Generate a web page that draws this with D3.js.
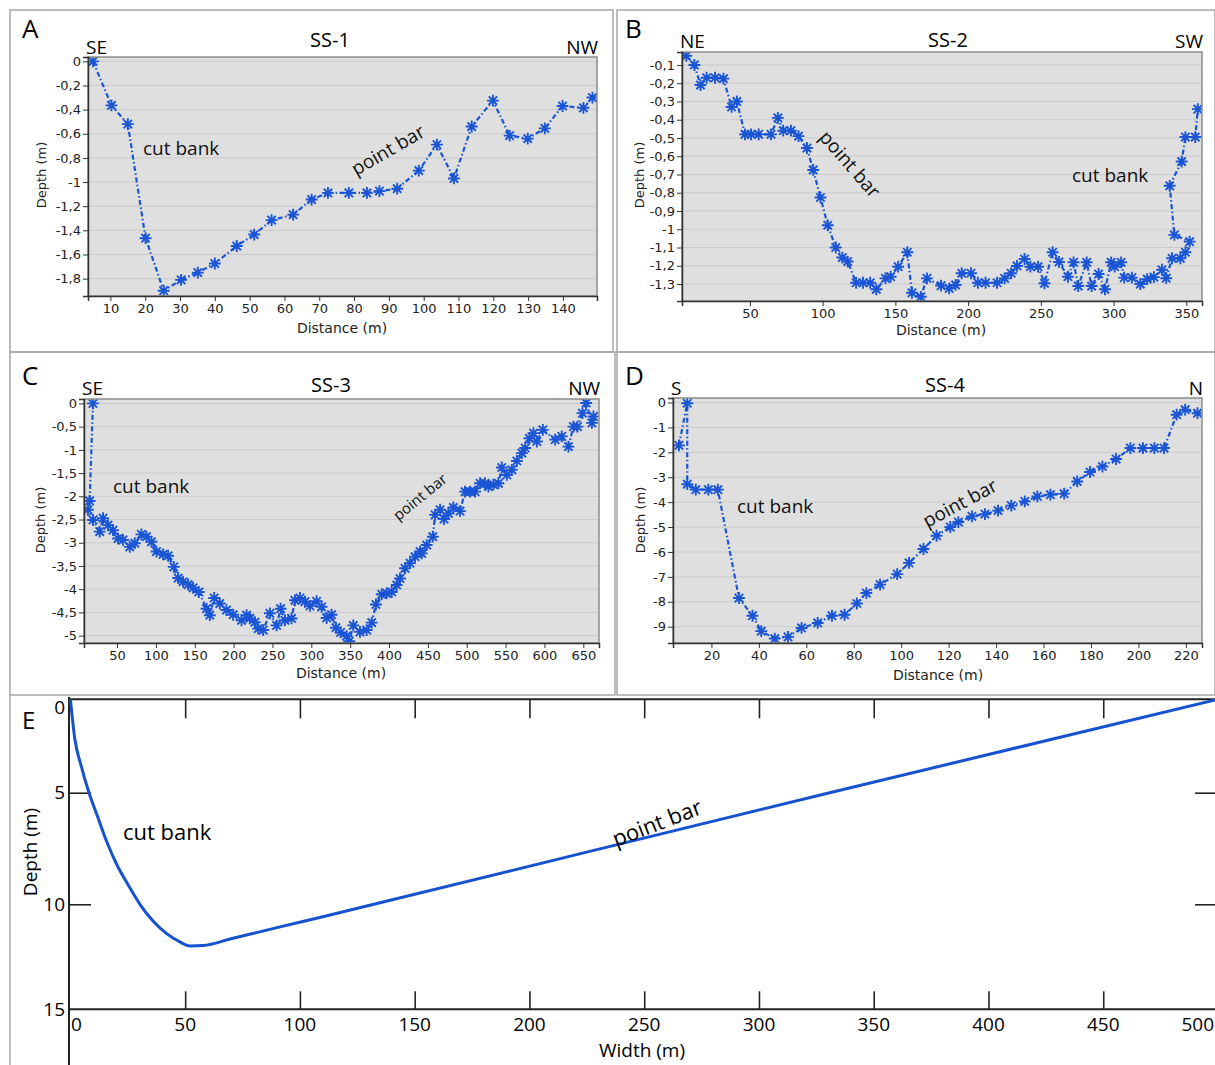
<!DOCTYPE html>
<html>
<head>
<meta charset="utf-8">
<script src="https://cdn.jsdelivr.net/npm/d3@7"></script>
<style>
  body { margin: 0; background: #fff; }
  svg { display: block; }
</style>
</head>
<body>
<svg id="fig" width="1215" height="1065"></svg>
<script>
// measured profiles: [distance (m), depth (m)]
const ss1 = [[5.0,0],[10.3,-0.365],[15,-0.52],[20.1,-1.465],[25.3,-1.9],[30.3,-1.81],[35.1,-1.75],[40,-1.675],
  [46.3,-1.53],[51.3,-1.435],[56.3,-1.315],[62.5,-1.27],[67.8,-1.145],[72.5,-1.09],[78.5,-1.09],[83.7,-1.09],
  [87.3,-1.075],[92.4,-1.055],[98.6,-0.905],[103.8,-0.69],[108.7,-0.97],[113.8,-0.54],[119.9,-0.325],
  [124.7,-0.615],[129.9,-0.64],[134.8,-0.555],[139.9,-0.37],[145.9,-0.385],[148.5,-0.30]];

const ss2 = [[6.3,-0.05],[11.8,-0.10],[16.0,-0.21],[20.2,-0.17],[26,-0.17],[31.8,-0.175],[37.4,-0.33],[41,-0.30],
  [46.6,-0.48],[50.8,-0.48],[56,-0.48],[64.5,-0.48],[69.2,-0.39],[72.9,-0.46],[78.2,-0.46],[83.4,-0.49],
  [89.2,-0.555],[93.5,-0.675],[98.5,-0.826],[103.5,-0.978],[109,-1.10],[113.5,-1.155],[117.2,-1.177],
  [123,-1.293],[127.7,-1.293],[132.7,-1.293],[136.9,-1.329],[143.2,-1.269],[146.7,-1.26],[151.9,-1.205],
  [158.2,-1.126],[161.4,-1.348],[167.5,-1.37],[171.7,-1.269],[181.4,-1.309],[187,-1.324],[191.4,-1.305],
  [195.6,-1.241],[202,-1.241],[206.7,-1.293],[212,-1.293],[219.9,-1.293],[225.1,-1.269],[229.6,-1.241],
  [233.6,-1.201],[238.8,-1.163],[242.8,-1.205],[248.1,-1.205],[252.5,-1.296],[258.1,-1.126],[262.5,-1.179],
  [268.6,-1.26],[272.5,-1.181],[275.7,-1.311],[281.5,-1.181],[284.9,-1.311],[289.7,-1.245],[294.1,-1.329],
  [298.4,-1.181],[300.7,-1.205],[305.2,-1.181],[307.3,-1.265],[312.6,-1.265],[318.4,-1.30],[323.1,-1.273],
  [327.7,-1.262],[333.3,-1.222],[336.2,-1.268],[340.2,-1.159],[345.9,-1.159],[349.4,-1.126],[352.3,-1.068],
  [341.8,-1.031],[338.6,-0.762],[346.8,-0.629],[349.4,-0.495],[356.2,-0.495],[357.9,-0.342]];

const ss3 = [[19,0],[14.8,-2.10],[12.6,-2.29],[19.1,-2.51],[27.7,-2.76],[32,-2.47],[38.4,-2.62],[44.8,-2.73],
  [51.3,-2.91],[57.7,-2.94],[66.4,-3.09],[72.8,-3.01],[81.4,-2.82],[87.9,-2.87],[94.3,-2.98],[100.8,-3.19],
  [109.3,-3.25],[115.7,-3.28],[123,-3.52],[128.6,-3.76],[135,-3.84],[141.5,-3.90],[147.9,-3.97],[155.2,-4.06],
  [165.2,-4.42],[169.4,-4.56],[175,-4.19],[182.3,-4.31],[190.9,-4.45],[199.4,-4.55],[210.2,-4.67],[216.7,-4.56],
  [220.9,-4.63],[227.4,-4.71],[231.6,-4.85],[238.1,-4.88],[246.7,-4.52],[255.3,-4.78],[260.5,-4.42],[266,-4.67],
  [274.6,-4.63],[278.9,-4.24],[285.3,-4.19],[291.8,-4.27],[298.2,-4.36],[306.8,-4.26],[313.2,-4.38],
  [319.7,-4.62],[326.1,-4.55],[331.7,-4.83],[337.7,-4.93],[345.4,-5.01],[348.8,-5.12],[354,-4.78],
  [362.6,-4.92],[371.2,-4.88],[377.7,-4.72],[383.2,-4.33],[390.6,-4.11],[397,-4.09],[403.4,-4.06],
  [409.9,-3.91],[414.1,-3.77],[420.6,-3.55],[427,-3.44],[433.5,-3.30],[439.9,-3.19],[442.1,-3.23],
  [448.5,-3.05],[456.3,-2.87],[459.3,-2.40],[465.7,-2.29],[470.8,-2.49],[476.4,-2.37],[482.8,-2.24],
  [491.4,-2.32],[497.8,-1.90],[504.3,-1.90],[510.7,-1.90],[517.2,-1.72],[523.6,-1.72],[527.9,-1.79],
  [534.3,-1.75],[540.8,-1.72],[545.1,-1.38],[551.6,-1.54],[558,-1.43],[564.5,-1.24],[570.9,-1.07],
  [575.2,-0.96],[580.7,-0.75],[585.9,-0.64],[590.2,-0.82],[597.9,-0.57],[613.8,-0.78],[622.3,-0.71],
  [630.9,-0.93],[637.3,-0.50],[642.5,-0.50],[648.9,-0.21],[653.7,0.01],[661.1,-0.42],[663.1,-0.28]];

const ss4 = [[6.3,-1.72],[9.8,-0.03],[9.8,-3.28],[13.4,-3.50],[18.7,-3.50],[22.7,-3.50],[31.6,-7.85],[37.3,-8.56],
  [41,-9.18],[46.7,-9.48],[52.3,-9.41],[58,-9.05],[64.8,-8.85],[70.8,-8.56],[76.1,-8.52],[81.3,-8.07],
  [85.3,-7.65],[91.1,-7.31],[98.3,-6.89],[103.3,-6.44],[109.4,-5.88],[114.9,-5.35],[120.7,-5.0],[124.1,-4.80],
  [129.8,-4.57],[135.3,-4.48],[140.8,-4.34],[146.4,-4.14],[152.1,-3.97],[157.4,-3.77],[162.9,-3.70],
  [168.7,-3.66],[174.2,-3.17],[179.6,-2.79],[184.8,-2.57],[190.6,-2.27],[196.6,-1.83],[201.9,-1.83],
  [206.7,-1.83],[210.8,-1.83],[216.1,-0.49],[219.7,-0.29],[224.9,-0.43]];

// idealised channel profile (E)
const eWidth = [0, 2.0, 4.6, 8.1, 11.6, 15.9, 20.3, 24.7, 30.3, 36.0, 42.1, 47.7, 52.1, 57.8, 70, 90, 110, 132.2, 330.8, 500];
const eDepth = [0, 2.18, 3.52, 5.0, 6.0, 7.21, 8.24, 9.05, 10.0, 10.8, 11.41, 11.79, 11.98, 11.96, 11.64, 11.11, 10.59, 10, 5, 0];

// tick values
const ss1XTicks = [10,20,30,40,50,60,70,80,90,100,110,120,130,140];
const ss1YTicks = [0,-0.2,-0.4,-0.6,-0.8,-1,-1.2,-1.4,-1.6,-1.8];
const ss2XTicks = [50,100,150,200,250,300,350];
const ss2YTicks = [-0.1,-0.2,-0.3,-0.4,-0.5,-0.6,-0.7,-0.8,-0.9,-1,-1.1,-1.2,-1.3];
const ss3XTicks = [50,100,150,200,250,300,350,400,450,500,550,600,650];
const ss3YTicks = [0,-0.5,-1,-1.5,-2,-2.5,-3,-3.5,-4,-4.5,-5];
const ss4XTicks = [20,40,60,80,100,120,140,160,180,200,220];
const ss4YTicks = [0,-1,-2,-3,-4,-5,-6,-7,-8,-9];
const eXTicks = [0,50,100,150,200,250,300,350,400,450,500];
const eYTicks = [0,5,10,15];

const BLUE = "#1a55d6";
const svg = d3.select("#fig");
const fmt = d3.formatLocale({decimal: ",", thousands: " ", grouping: [3], currency: ["", ""], minus: "-"}).format("~g");

// 8-spoke asterisk marker
const asterisk = {
  draw(ctx, size) {
    const r = Math.sqrt(size) / 2;
    for (let k = 0; k < 4; k++) {
      const a = k * Math.PI / 4;
      ctx.moveTo(-r * Math.cos(a), -r * Math.sin(a));
      ctx.lineTo(r * Math.cos(a), r * Math.sin(a));
    }
  }
};

const panels = [
  {id: "a", letter: "A", title: "SS-1", dirL: "SE", dirR: "NW", box: [10, 10, 603, 342],
   plot: [88, 57, 597, 296], xDom: [3.56, 149.8], yDom: [-1.944, 0.036],
   xTicks: ss1XTicks, yTicks: ss1YTicks, data: ss1,
   letterPos: [22, 38], titlePos: [330, 47], dirY: 54, dxTitle: [342, 333], dyTitle: [46, 175],
   notes: [{t: "cut bank", x: 143, y: 155, s: 19, a: 0}, {t: "point bar", x: 388, y: 150, s: 19, a: -30, mid: true}]},
  {id: "b", letter: "B", title: "SS-2", dirL: "NE", dirR: "SW", box: [617, 10, 598, 342],
   plot: [682, 52, 1202, 301], xDom: [3.3, 360.8], yDom: [-1.393, -0.029],
   xTicks: ss2XTicks, yTicks: ss2YTicks, data: ss2,
   letterPos: [625, 38], titlePos: [948, 47], dirY: 48, dxTitle: [941, 335], dyTitle: [644, 175],
   notes: [{t: "point bar", x: 850, y: 164, s: 19, a: 49, mid: true}, {t: "cut bank", x: 1072, y: 182, s: 19, a: 0}]},
  {id: "c", letter: "C", title: "SS-3", dirL: "SE", dirR: "NW", box: [10, 352, 605, 343],
   plot: [84, 399, 599, 643], xDom: [7.5, 670.2], yDom: [-5.159, 0.095],
   xTicks: ss3XTicks, yTicks: ss3YTicks, data: ss3,
   letterPos: [22, 385], titlePos: [331, 392], dirY: 395, dxTitle: [341, 678], dyTitle: [45, 520],
   notes: [{t: "cut bank", x: 113, y: 493, s: 19, a: 0}, {t: "point bar", x: 420, y: 497, s: 15, a: -39, mid: true}]},
  {id: "d", letter: "D", title: "SS-4", dirL: "S", dirR: "N", box: [617, 352, 598, 343],
   plot: [673, 398, 1202, 643], xDom: [3.8, 226.8], yDom: [-9.655, 0.18],
   xTicks: ss4XTicks, yTicks: ss4YTicks, data: ss4,
   letterPos: [625, 385], titlePos: [945, 392], dirY: 395, dxTitle: [938, 680], dyTitle: [645, 520],
   notes: [{t: "cut bank", x: 737, y: 513, s: 19, a: 0}, {t: "point bar", x: 960, y: 503, s: 19, a: -28, mid: true}]}
];

panels.forEach(p => {
  const [x0, y0, x1, y1] = p.plot;
  const g = svg.append("g");

  g.append("rect").attr("x", p.box[0]).attr("y", p.box[1]).attr("width", p.box[2]).attr("height", p.box[3])
    .attr("fill", "none").attr("stroke", "#a8a8a8").attr("stroke-width", 1.5);

  const x = d3.scaleLinear().domain(p.xDom).range([x0, x1]);
  const y = d3.scaleLinear().domain(p.yDom).range([y1, y0]);

  g.append("rect").attr("x", x0).attr("y", y0).attr("width", x1 - x0).attr("height", y1 - y0)
    .attr("fill", "#dfdfdf");

  // horizontal grid
  g.append("g").selectAll("line").data(p.yTicks).join("line")
    .attr("x1", x0).attr("x2", x1).attr("y1", d => y(d)).attr("y2", d => y(d))
    .attr("stroke", "#cbcbcb").attr("stroke-width", 1);

  g.append("clipPath").attr("id", "clip-" + p.id)
    .append("rect").attr("x", x0).attr("y", y0).attr("width", x1 - x0).attr("height", y1 - y0);

  const plotG = g.append("g").attr("clip-path", `url(#clip-${p.id})`);
  const line = d3.line().x(d => x(d[0])).y(d => y(d[1]));
  plotG.append("path").datum(p.data).attr("d", line)
    .attr("fill", "none").attr("stroke", BLUE).attr("stroke-width", 2.2)
    .attr("stroke-dasharray", "5,2.5,1.5,2.5");
  plotG.selectAll(".pt").data(p.data).join("path").attr("class", "pt")
    .attr("transform", d => `translate(${x(d[0])},${y(d[1])})`)
    .attr("d", d3.symbol(asterisk, 140))
    .attr("fill", "none").attr("stroke", BLUE).attr("stroke-width", 1.9);

  g.append("rect").attr("x", x0).attr("y", y0).attr("width", x1 - x0).attr("height", y1 - y0)
    .attr("fill", "none").attr("stroke", "#8c8c8c").attr("stroke-width", 1.5);

  const xAxis = g.append("g").attr("transform", `translate(0,${y1})`)
    .call(d3.axisBottom(x).tickValues(p.xTicks).tickSize(5).tickPadding(3).tickFormat(fmt));
  const yAxis = g.append("g").attr("transform", `translate(${x0},0)`)
    .call(d3.axisLeft(y).tickValues(p.yTicks).tickSize(5).tickPadding(2).tickFormat(fmt));
  [xAxis, yAxis].forEach(a => {
    a.select(".domain").attr("stroke", "#333").attr("stroke-width", 1.5);
    a.selectAll(".tick line").attr("stroke", "#333");
    a.selectAll("text").attr("font-family", "DejaVu Sans").attr("font-size", 13).attr("fill", "#222");
  });

  g.append("text").attr("x", p.dxTitle[0]).attr("y", p.dxTitle[1]).attr("text-anchor", "middle")
    .attr("font-family", "DejaVu Sans").attr("font-size", 14).attr("fill", "#222").text("Distance (m)");
  g.append("text").attr("transform", `translate(${p.dyTitle[0]},${p.dyTitle[1]}) rotate(-90)`)
    .attr("text-anchor", "middle").attr("font-family", "DejaVu Sans").attr("font-size", 13)
    .attr("fill", "#222").text("Depth (m)");

  const sans = "Open Sans";
  g.append("text").attr("x", p.letterPos[0]).attr("y", p.letterPos[1]).attr("font-family", sans)
    .attr("font-size", 26).text(p.letter);
  g.append("text").attr("x", p.titlePos[0]).attr("y", p.titlePos[1]).attr("text-anchor", "middle")
    .attr("font-family", sans).attr("font-size", 20).text(p.title);
  g.append("text").attr("x", x0 - 2).attr("y", p.dirY).attr("font-family", sans).attr("font-size", 19).text(p.dirL);
  g.append("text").attr("x", x1 + 1).attr("y", p.dirY).attr("text-anchor", "end")
    .attr("font-family", sans).attr("font-size", 19).text(p.dirR);

  p.notes.forEach(n => {
    g.append("text").attr("transform", `translate(${n.x},${n.y}) rotate(${n.a})`)
      .attr("text-anchor", n.mid ? "middle" : "start").attr("dy", n.mid ? "0.35em" : 0)
      .attr("font-family", sans).attr("font-size", n.s).attr("fill", "#111").text(n.t);
  });
});

// ---- panel E : idealised section ----
const eg = svg.append("g");
eg.append("line").attr("x1", 10).attr("x2", 10).attr("y1", 695).attr("y2", 1065)
  .attr("stroke", "#a8a8a8").attr("stroke-width", 1.5);

const ex = d3.scaleLinear().domain([0, 500]).range([70.4, 1218]);
const ey = d3.scaleLinear().domain([0, 5, 10, 15]).range([699.3, 792.7, 904.3, 1009.3]);

const topAx = eg.append("g").attr("transform", "translate(0,699.3)")
  .call(d3.axisTop(ex).tickValues(eXTicks.slice(1, -1)).tickSize(-19).tickFormat(""));
const botAx = eg.append("g").attr("transform", "translate(0,1009.3)")
  .call(d3.axisBottom(ex).tickValues(eXTicks.slice(1, -1)).tickSize(-18).tickFormat(""));
const leftAx = eg.append("g").attr("transform", "translate(69,0)")
  .call(d3.axisLeft(ey).tickValues([5, 10]).tickSize(-22).tickFormat(""));
const rightAx = eg.append("g").attr("transform", "translate(1215,0)")
  .call(d3.axisRight(ey).tickValues([5, 10]).tickSize(-20).tickFormat(""));
[topAx, botAx, leftAx, rightAx].forEach(a => {
  a.select(".domain").remove();
  a.selectAll(".tick line").attr("stroke", "#222").attr("stroke-width", 1.6);
});

// frame lines
eg.append("line").attr("x1", 69).attr("x2", 1215).attr("y1", 699.3).attr("y2", 699.3).attr("stroke", "#222").attr("stroke-width", 2);
eg.append("line").attr("x1", 69).attr("x2", 1215).attr("y1", 1009.3).attr("y2", 1009.3).attr("stroke", "#222").attr("stroke-width", 2);
eg.append("line").attr("x1", 69).attr("x2", 69).attr("y1", 697).attr("y2", 1065).attr("stroke", "#222").attr("stroke-width", 2);

// tick labels
eg.append("g").selectAll("text").data(eXTicks).join("text")
  .attr("x", d => d === 500 ? 1214 : ex(d) + (d === 0 ? 6 : 0)).attr("y", 1031)
  .attr("text-anchor", d => d === 500 ? "end" : "middle")
  .attr("font-family", "Open Sans").attr("font-size", 19).text(d => d);
eg.append("g").selectAll("text").data(eYTicks).join("text")
  .attr("x", 65).attr("y", d => ey(d) + (d === 0 ? 8 : 0)).attr("dy", "0.35em")
  .attr("text-anchor", "end").attr("font-family", "Open Sans").attr("font-size", 19).text(d => d);

const eLine = d3.line().x((d, i) => ex(eWidth[i])).y(d => ey(d)).curve(d3.curveMonotoneX);
eg.append("path").attr("d", eLine(eDepth)).attr("fill", "none").attr("stroke", "#1652cf").attr("stroke-width", 3);

eg.append("text").attr("x", 22).attr("y", 729).attr("font-family", "Open Sans").attr("font-size", 24).text("E");
eg.append("text").attr("x", 123).attr("y", 840).attr("font-family", "Open Sans").attr("font-size", 22).text("cut bank");
eg.append("text").attr("transform", "translate(657,823) rotate(-21)").attr("text-anchor", "middle").attr("dy", "0.35em")
  .attr("font-family", "Open Sans").attr("font-size", 22).text("point bar");
eg.append("text").attr("x", 642).attr("y", 1057).attr("text-anchor", "middle")
  .attr("font-family", "Open Sans").attr("font-size", 19).text("Width (m)");
eg.append("text").attr("transform", "translate(37,852) rotate(-90)").attr("text-anchor", "middle")
  .attr("font-family", "Open Sans").attr("font-size", 19).text("Depth (m)");
</script>
</body>
</html>
